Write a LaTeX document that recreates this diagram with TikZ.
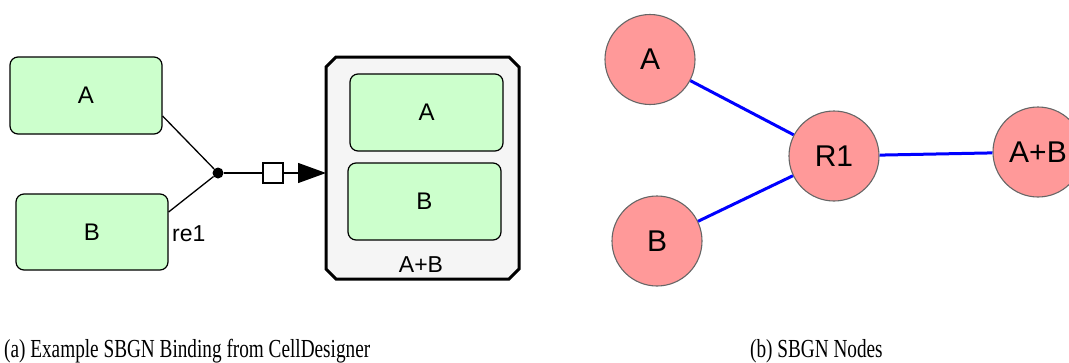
\documentclass[tikz,border=0pt]{standalone}
\usepackage{fontspec}
\setmainfont{Liberation Serif}
\setsansfont{Liberation Sans}
\usetikzlibrary{arrows.meta,calc}
\definecolor{specgreen}{HTML}{CCFFCC}
\definecolor{cplxfill}{HTML}{F5F5F5}
\definecolor{sbgnred}{HTML}{FF9999}
\definecolor{sbgnedge}{HTML}{666666}
\tikzset{
  species/.style={draw=black, line width=1.2pt, fill=specgreen, rounded corners=8pt,
    inner sep=0pt, font=\sffamily\fontsize{24}{24}\selectfont},
  sbgnnode/.style={circle, draw=sbgnedge, line width=1.1pt, fill=sbgnred, minimum size=90pt,
    inner sep=0pt, font=\sffamily\fontsize{30}{30}\selectfont},
  sbgnedge/.style={blue, line width=3pt},
  cdline/.style={black, line width=1.3pt},
  cdlabel/.style={font=\sffamily\fontsize{23}{23}\selectfont, inner sep=0pt},
  caption/.style={font=\fontsize{26}{26}\selectfont, inner sep=0pt, anchor=base west}
}
\begin{document}
\begin{tikzpicture}[x=1pt,y=-1pt]
\useasboundingbox (0,0) rectangle (1069,362);
% complex
\fill[cplxfill] (336,57) -- (509,57) -- (519,67) -- (519,269) -- (509,279) -- (336,279) -- (326,269) -- (326,67) -- cycle;
\draw[line width=3pt, line join=miter] (336,57) -- (509,57) -- (519,67) -- (519,269) -- (509,279) -- (336,279) -- (326,269) -- (326,67) -- cycle;
\coordinate (cplxw) at (326,173);
\node[cdlabel] (cplxlabel) at (421,265) {A+B};
\node[species, minimum width=153pt, minimum height=77pt] (iA) at (426.5,112.5) {A};
\node[species, minimum width=153pt, minimum height=77pt] (iB) at (424.5,201.5) {B};
% left species
\node[species, minimum width=152pt, minimum height=77pt] (A) at (86,95.5) {A};
\node[species, minimum width=152pt, minimum height=76pt] (B) at (92,232) {B};
% reaction
\node[circle, fill=black, minimum size=11pt, inner sep=0pt] (dot) at (218,173) {};
\node[draw=black, line width=1.3pt, fill=white, minimum size=20pt, inner sep=0pt] (sq) at (273,173) {};
\draw[cdline] ([yshift=-20.5pt]A.east) -- (dot);
\draw[cdline] ([yshift=20pt]B.east) -- (dot);
\draw[cdline] (dot) -- (sq);
\draw[cdline, -{Triangle[length=28pt,width=20pt]}] (sq) -- (cplxw);
\node[cdlabel, anchor=west] (re1) at (172,234) {re1};
% right SBGN
\node[sbgnnode] (sA) at (650,59.5) {A};
\node[sbgnnode] (sB) at (657,241) {B};
\node[sbgnnode] (sR) at (834,156) {R1};
\node[sbgnnode] (sAB) at (1038,152) {A+B};
\draw[sbgnedge] (sA) -- (sR);
\draw[sbgnedge] (sB) -- (sR);
\draw[sbgnedge] (sR) -- (sAB);
% captions
\node[caption] (capa) at (4,357) {\scalebox{0.74}[1]{(a) Example SBGN Binding from CellDesigner}};
\node[caption] (capb) at (750,357) {\scalebox{0.74}[1]{(b) SBGN Nodes}};
\end{tikzpicture}
\end{document}
